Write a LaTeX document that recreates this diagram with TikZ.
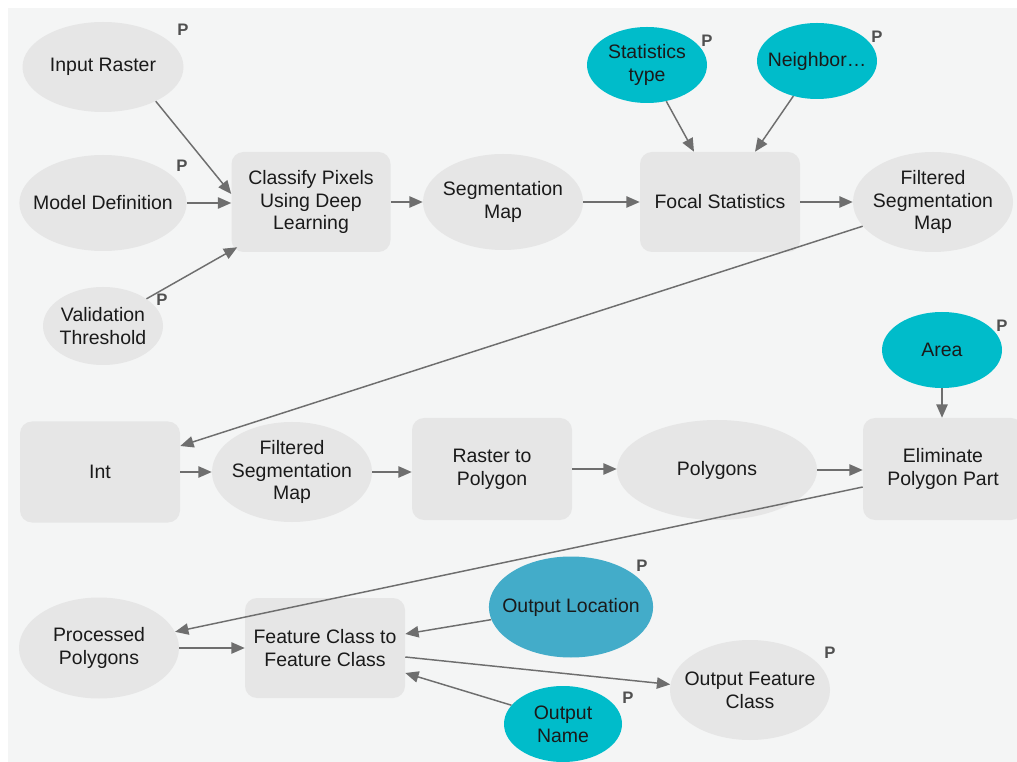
\documentclass[tikz,border=0pt]{standalone}
\usepackage{fontspec}
\setmainfont{Liberation Sans}
\usetikzlibrary{shapes.geometric,arrows.meta}
\definecolor{panel}{HTML}{F4F5F5}
\definecolor{gnode}{HTML}{E6E6E6}
\definecolor{cyn}{HTML}{00BCCA}
\definecolor{blu}{HTML}{43ACC9}
\definecolor{edge}{HTML}{6E6E6E}
\definecolor{txt}{HTML}{1A1A1A}
\definecolor{pcol}{HTML}{505050}
\tikzset{
  sz/.style 2 args={minimum width=#1*0.75pt, minimum height=#2*0.75pt},
  base/.style={text=txt, align=center, font=\fontsize{14.6pt}{17pt}\selectfont},
  ell/.style={base, ellipse, fill=gnode, inner sep=-8pt},
  cell/.style={base, ellipse, fill=cyn, inner sep=-8pt},
  bell/.style={base, ellipse, fill=blu, inner sep=-8pt},
  tool/.style={base, rectangle, rounded corners=9pt, fill=gnode, inner sep=0pt},
  plab/.style={text=pcol, font=\fontsize{12.5pt}{12.5pt}\selectfont\bfseries, inner sep=0pt},
  conn/.style={draw=edge, line width=1.1pt, -{Triangle[length=10pt,width=8.5pt]}}
}
\begin{document}
\begin{tikzpicture}[x=0.75pt,y=-0.75pt]
\useasboundingbox (0,0) rectangle (1017,762);
\clip (0,0) rectangle (1017,762);
\fill[white] (0,0) rectangle (1017,762);
\fill[panel] (8,8) rectangle (1017,762);

% row 1
\node[ell, sz={161}{90}] (ir) at (103,67) {Input Raster};
\node[ell, sz={161}{96}] (md) at (103,203) {Model Definition};
\node[ell, sz={120}{78}] (vt) at (103,326) {Validation\\Threshold};
\node[tool, sz={159}{100}] (cp) at (311,202) {Classify Pixels\\Using Deep\\Learning};
\node[ell, sz={160}{96}] (sm) at (503,202) {Segmentation\\Map};
\node[tool, sz={160}{100}] (fs) at (720,202) {Focal Statistics};
\node[cell, sz={120}{76}] (st) at (647,65) {Statistics\\type};
\node[cell, sz={120}{76}] (nb) at (817,61) {Neighbor…};
\node[ell, sz={160}{100}] (fsm1) at (933,202) {Filtered\\Segmentation\\Map};

% row 2
\node[tool, sz={160}{101}] (int) at (100,472) {Int};
\node[ell, sz={160}{100}] (fsm2) at (292,472) {Filtered\\Segmentation\\Map};
\node[tool, sz={160}{102}] (rp) at (492,469) {Raster to\\Polygon};
\node[ell, sz={200}{100}] (poly) at (717,470) {Polygons};
\node[cell, sz={120}{76}] (area) at (942,350) {Area};
\node[tool, sz={160}{102}] (epp) at (943,469) {Eliminate\\Polygon Part};

% row 3
\node[ell, sz={160}{101}] (pp) at (99,648) {Processed\\Polygons};
\node[tool, sz={160}{100}] (fc) at (325,648) {Feature Class to\\Feature Class};
\node[bell, sz={162}{101}] (ol) at (571,607) {Output Location};
\node[ell, sz={160}{100}] (ofc) at (750,690) {Output Feature\\Class};
\node[cell, sz={118}{76}] (on) at (563,724) {Output\\Name};

% P labels
\node[plab] (pir) at (183,30) {P};
\node[plab] (pmd) at (182,166) {P};
\node[plab] (pvt) at (162,300) {P};
\node[plab] (pst) at (707,41) {P};
\node[plab] (pnb) at (877,37) {P};
\node[plab] (parea) at (1002,326) {P};
\node[plab] (pol) at (642,566) {P};
\node[plab] (pofc) at (830,653) {P};
\node[plab] (pon) at (628,698) {P};

% connectors
\draw[conn] (ir.-33) -- ([shift={(0,-8)}]cp.west);
\draw[conn] (md.east) -- (md.east -| cp.west);
\draw[conn] (vt.32) -- ([shift={(6,-5)}]cp.south west);
\draw[conn] (cp.east) -- (cp.east -| sm.west);
\draw[conn] (sm.east) -- (sm.east -| fs.west);
\draw[conn] (st.-62) -- ([shift={(-26,0)}]fs.north);
\draw[conn] (nb.-124) -- ([shift={(35,0)}]fs.north);
\draw[conn] (fs.east) -- (fs.east -| fsm1.west);
\draw[conn] (fsm1.199) -- ([shift={(0,-26)}]int.east);
\draw[conn] (int.east) -- (int.east -| fsm2.west);
\draw[conn] (fsm2.east) -- (fsm2.east -| rp.west);
\draw[conn] (rp.east) -- (rp.east -| poly.west);
\draw[conn] (poly.east) -- (poly.east -| epp.west);
\draw[conn] (area.south) -- (area.south |- epp.north);
\draw[conn] ([shift={(0,18)}]epp.west) -- (pp.12);
\draw[conn] (pp.east) -- (pp.east -| fc.west);
\draw[conn] (ol.189) -- ([shift={(0,-14)}]fc.east);
\draw[conn] ([shift={(0,9)}]fc.east) -- (ofc.176);
\draw[conn] (on.160) -- ([shift={(0,25)}]fc.east);
\end{tikzpicture}
\end{document}
